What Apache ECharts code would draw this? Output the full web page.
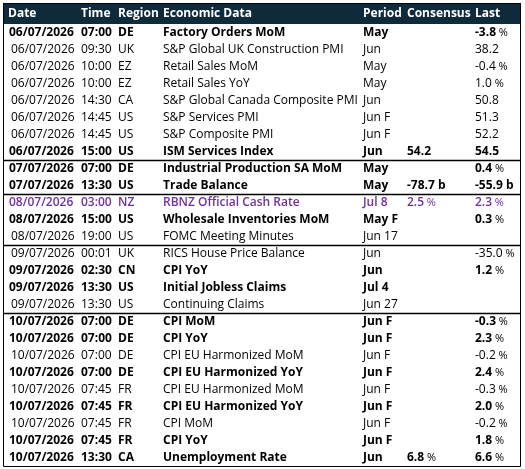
<!DOCTYPE html>
<html><head><meta charset="utf-8">
<script src="https://cdn.jsdelivr.net/npm/echarts@6/dist/echarts.min.js"></script>
<style>html,body{margin:0;padding:0;background:#fff}#c{width:525px;height:469px}</style>
</head><body><div id="c"></div>
<script>
const headers = ["Date","Time","Region","Economic Data","Period","Consensus","Last"];
const dates = ["06/07/2026","06/07/2026","06/07/2026","06/07/2026","06/07/2026","06/07/2026","06/07/2026","06/07/2026",
"07/07/2026","07/07/2026","08/07/2026","08/07/2026","08/07/2026","09/07/2026","09/07/2026","09/07/2026","09/07/2026",
"10/07/2026","10/07/2026","10/07/2026","10/07/2026","10/07/2026","10/07/2026","10/07/2026","10/07/2026","10/07/2026"];
const times = ["07:00","09:30","10:00","10:00","14:30","14:45","14:45","15:00","07:00","13:30","03:00","15:00","19:00","00:01","02:30","13:30","13:30","07:00","07:00","07:00","07:00","07:45","07:45","07:45","07:45","13:30"];
const regions = ["DE","UK","EZ","EZ","CA","US","US","US","DE","US","NZ","US","US","UK","CN","US","US","DE","DE","DE","DE","FR","FR","FR","FR","CA"];
const events = ["Factory Orders MoM","S&P Global UK Construction PMI","Retail Sales MoM","Retail Sales YoY","S&P Global Canada Composite PMI","S&P Services PMI","S&P Composite PMI","ISM Services Index","Industrial Production SA MoM","Trade Balance","RBNZ Official Cash Rate","Wholesale Inventories MoM","FOMC Meeting Minutes","RICS House Price Balance","CPI YoY","Initial Jobless Claims","Continuing Claims","CPI MoM","CPI YoY","CPI EU Harmonized MoM","CPI EU Harmonized YoY","CPI EU Harmonized MoM","CPI EU Harmonized YoY","CPI MoM","CPI YoY","Unemployment Rate"];
const periods = ["May","Jun","May","May","Jun","Jun F","Jun F","Jun","May","May","Jul 8","May F","Jun 17","Jun","Jun","Jul 4","Jun 27","Jun F","Jun F","Jun F","Jun F","Jun F","Jun F","Jun F","Jun F","Jun"];
const consensus = ["","","","","","","","54.2","","-78.7 b","2.5 %","","","","","","","","","","","","","","","6.8 %"];
const last = ["-3.8 %","38.2","-0.4 %","1.0 %","50.8","51.3","52.2","54.5","0.4 %","-55.9 b","2.3 %","0.3 %","","-35.0 %","1.2 %","","","-0.3 %","2.3 %","-0.2 %","2.4 %","-0.3 %","2.0 %","-0.2 %","1.8 %","6.6 %"];
const bold = [1,0,0,0,0,0,0,1,1,1,2,1,0,0,1,1,0,1,1,0,1,0,1,0,1,1]; // 2 = highlighted
const separatorsAfter = [7,9,12,16];

const colX = [9,81,118,163,363,407,475];
const cols = [dates,times,regions,events,periods,consensus,last];
const data = [];
for (let r=0;r<dates.length;r++){
  for (let c=0;c<cols.length;c++){
    if (cols[c][r]!=="") data.push([colX[c]+(bold[r]===0&&c===0?2:0), r, cols[c][r], bold[r]]);
  }
}
const rowCats = dates.map((d,i)=>String(i));
const chart = echarts.init(document.getElementById('c'));
const FONT = '"Open Sans", "Noto Sans", sans-serif';
function richText(t){
  const m = t.match(/^(.*?)( %| b)$/);
  if (m && m[2]===' %') return '{v|'+m[1]+'}{p| %}';
  return '{v|'+t+'}';
}
const gTop=24, rowH=17;
const graphics=[
  {type:'rect',shape:{x:3,y:3,width:518,height:21},style:{fill:'#0f2a3b'},z:-1},
  {type:'rect',shape:{x:3.5,y:3.5,width:517,height:gTop-3+26*rowH},style:{fill:null,stroke:'#000',lineWidth:1},z:10}
];
headers.forEach((h,i)=>graphics.push({type:'text',x:colX[i]-(i===0?1:0),y:14,style:{text:h,fill:'#fff',font:'bold 12px '+FONT,textVerticalAlign:'middle'}}));
separatorsAfter.forEach(r=>{const y=gTop+(r+1)*rowH+0.5;graphics.push({type:'line',shape:{x1:3,y1:y,x2:521,y2:y},style:{stroke:'#000',lineWidth:1.3},z:10});});
chart.setOption({
  animation:false,
  grid:{left:0,right:0,top:gTop,height:26*rowH},
  xAxis:{type:'value',min:0,max:525,show:false},
  yAxis:{type:'category',data:rowCats,inverse:true,show:false},
  graphic:graphics,
  series:[{type:'custom',data:data,encode:{x:0,y:1},
    renderItem:function(params,api){
      const p=api.coord([api.value(0),api.value(1)]);
      const t=data[params.dataIndex][2], b=data[params.dataIndex][3];
      const col = b===2?'#7030a0':'#000';
      const w = b===1?'bold':(b===2?'600':'normal');
      return {type:'text',x:p[0],y:p[1]+0.5,style:{text:richText(t),verticalAlign:'middle',
        rich:{v:{fontFamily:FONT,fontSize:12,fontWeight:w,fill:col},p:{fontFamily:FONT,fontSize:11,fontWeight:'normal',fill:col}}}};
    }}]
});
</script></body></html>
